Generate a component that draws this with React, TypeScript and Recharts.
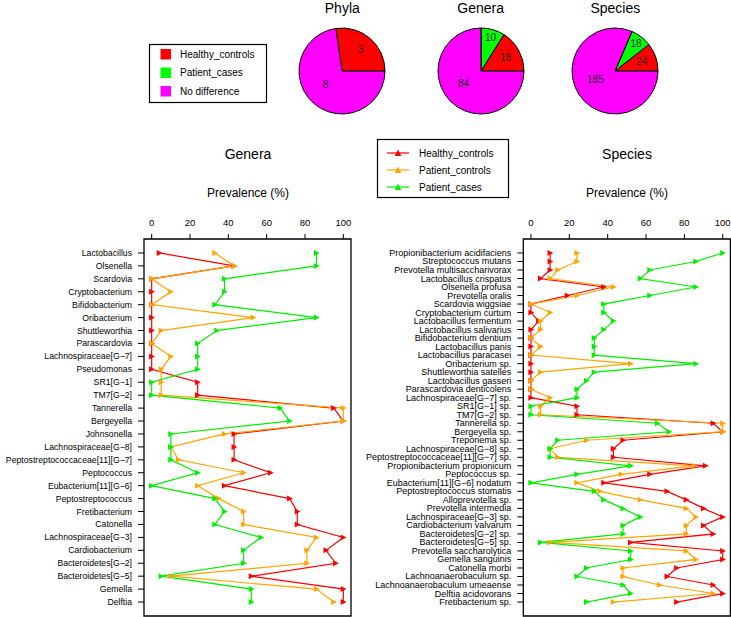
import React from "react";
import {
  LineChart,
  Line,
  XAxis,
  YAxis,
  ReferenceArea,
  PieChart,
  Pie,
  Cell,
} from "recharts";

const FONT = '"Liberation Sans", Arial, Helvetica, sans-serif';

// pie charts: Healthy_controls, Patient_cases, No difference
const pieGroups = ["Healthy_controls", "Patient_cases", "No difference"];
const pieColors = ["#FF0000", "#00FF00", "#FF00FF"];
const pieTitles = ["Phyla", "Genera", "Species"];
const phylaCounts = [3, 0, 8];
const generaCounts = [18, 10, 84];
const speciesCounts = [24, 18, 185];

// prevalence series
const seriesNames = ["Healthy_controls", "Patient_controls", "Patient_cases"];
const seriesColors = ["#FF0000", "#FFA500", "#00EE00"];
const xTicks = [0, 20, 40, 60, 80, 100];

const genera = [
  "Lactobacillus", "Olsenella", "Scardovia", "Cryptobacterium", "Bifidobacterium",
  "Oribacterium", "Shuttleworthia", "Parascardovia", "Lachnospiraceae[G\u22127]",
  "Pseudomonas", "SR1[G\u22121]", "TM7[G\u22122]", "Tannerella", "Bergeyella",
  "Johnsonella", "Lachnospiraceae[G\u22128]", "Peptostreptococcaceae[11][G\u22127]",
  "Peptococcus", "Eubacterium[11][G\u22126]", "Peptostreptococcus", "Fretibacterium",
  "Catonella", "Lachnospiraceae[G\u22123]", "Cardiobacterium", "Bacteroidetes[G\u22122]",
  "Bacteroidetes[G\u22125]", "Gemella", "Delftia",
];
const generaHealthy = [4, 43, 0, 0, 0, 0, 0, 0, 0, 0, 24, 24, 95, 100, 43, 43, 43, 62, 38, 72, 76, 76, 100, 91, 96, 52, 100, 100];
const generaPatCtrl = [33, 43, 0, 10, 0, 53, 5, 0, 10, 5, 5, 5, 100, 100, 38, 10, 14, 48, 24, 35, 48, 48, 86, 81, 81, 10, 86, 95];
const generaPatCase = [86, 86, 38, 38, 33, 86, 34, 24, 24, 24, 0, 0, 67, 72, 10, 10, 10, 24, 0, 33, 38, 33, 57, 48, 48, 5, 52, 52];

const species = [
  "Propionibacterium acidifaciens", "Streptococcus mutans", "Prevotella multisaccharivorax",
  "Lactobacillus crispatus", "Olsenella profusa", "Prevotella oralis", "Scardovia wiggsiae",
  "Cryptobacterium curtum", "Lactobacillus fermentum", "Lactobacillus salivarius",
  "Bifidobacterium dentium", "Lactobacillus panis", "Lactobacillus paracasei",
  "Oribacterium sp.", "Shuttleworthia satelles", "Lactobacillus gasseri",
  "Parascardovia denticolens", "Lachnospiraceae[G\u22127] sp.", "SR1[G\u22121] sp.",
  "TM7[G\u22122] sp.", "Tannerella sp.", "Bergeyella sp.", "Treponema sp.",
  "Lachnospiraceae[G\u22128] sp.", "Peptostreptococcaceae[11][G\u22127] sp.",
  "Propionibacterium propionicum", "Peptococcus sp.", "Eubacterium[11][G\u22126] nodatum",
  "Peptostreptococcus stomatis", "Alloprevotella sp.", "Prevotella intermedia",
  "Lachnospiraceae[G\u22123] sp.", "Cardiobacterium valvarum", "Bacteroidetes[G\u22122] sp.",
  "Bacteroidetes[G\u22125] sp.", "Prevotella saccharolytica", "Gemella sanguinis",
  "Catonella morbi", "Lachnoanaerobaculum sp.", "Lachnoanaerobaculum umeaense",
  "Delftia acidovorans", "Fretibacterium sp.",
];
const speciesHealthy = [10, 10, 10, 5, 38, 19, 0, 0, 4, 0, 0, 0, 0, 0, 0, 0, 0, 0, 24, 24, 95, 100, 48, 43, 43, 91, 62, 38, 71, 81, 90, 100, 90, 95, 52, 100, 100, 76, 71, 95, 100, 76];
const speciesPatCtrl = [24, 24, 14, 10, 43, 24, 0, 10, 5, 5, 0, 5, 0, 52, 5, 0, 0, 10, 5, 5, 100, 100, 29, 10, 14, 85, 47, 24, 36, 57, 81, 86, 81, 81, 10, 81, 86, 48, 48, 67, 95, 43];
const speciesPatCase = [100, 86, 62, 57, 86, 62, 38, 38, 43, 38, 33, 33, 33, 86, 33, 29, 24, 24, 0, 0, 66, 72, 14, 10, 10, 52, 24, 0, 33, 38, 48, 57, 48, 48, 5, 52, 52, 29, 24, 48, 52, 29];

const RADIAN = Math.PI / 180;

function triangleDot(color: string) {
  return (props: any) => {
    const { cx, cy, index } = props;
    if (cx == null || cy == null) return <g key={index} />;
    return (
      <polygon
        key={index}
        points={`${cx - 2.6},${cy - 3} ${cx + 3.2},${cy} ${cx - 2.6},${cy + 3}`}
        fill={color}
      />
    );
  };
}

function SmallPie({ counts, cx }: { counts: number[]; cx: number }) {
  const data = counts.map((v, i) => ({ name: pieGroups[i], value: v }));
  // label radius (fraction of R) and angle shift per slice
  const factors = [0.66, 0.8, 0.5];
  const shifts = [0, 0, -9];
  const renderLabel = (p: any) => {
    if (!p.value) return null;
    const r = p.outerRadius * factors[p.index];
    const a = (p.midAngle + shifts[p.index]) * RADIAN;
    const x = p.cx + r * Math.cos(-a);
    const y = p.cy + r * Math.sin(-a);
    return (
      <text
        x={x}
        y={y}
        textAnchor="middle"
        dominantBaseline="central"
        fontSize={10}
        fill="#222"
        fontFamily={FONT}
      >
        {p.value}
      </text>
    );
  };
  return (
    <div style={{ position: "absolute", left: cx - 50, top: 21.3 }}>
      <PieChart width={100} height={100} margin={{ top: 0, right: 0, bottom: 0, left: 0 }}>
        <Pie
          data={data}
          dataKey="value"
          cx={50}
          cy={50}
          outerRadius={43}
          startAngle={0}
          endAngle={360}
          stroke="#000"
          strokeWidth={1}
          label={renderLabel}
          labelLine={false}
          isAnimationActive={false}
        >
          {data.map((d, i) => (
            <Cell key={d.name} fill={pieColors[i]} />
          ))}
        </Pie>
      </PieChart>
    </div>
  );
}

function PrevalencePanel({
  names,
  healthy,
  patCtrl,
  patCase,
  left,
  width,
  axisWidth,
  rightMargin,
  labelSize,
}: {
  names: string[];
  healthy: number[];
  patCtrl: number[];
  patCase: number[];
  left: number;
  width: number;
  axisWidth: number;
  rightMargin: number;
  labelSize: number;
}) {
  const n = names.length;
  const pad = (n - 1) * 0.04;
  const data = names.map((name, i) => ({
    pos: i + 1,
    name,
    h: healthy[i],
    pc: patCtrl[i],
    ps: patCase[i],
  }));
  const keys = ["h", "pc", "ps"];
  const renderTick = (p: any) => (
    <text
      x={p.x}
      y={p.y}
      textAnchor="end"
      dominantBaseline="central"
      fontSize={labelSize}
      fill="#000"
      fontFamily={FONT}
    >
      {names[p.payload.value - 1]}
    </text>
  );
  return (
    <div style={{ position: "absolute", left, top: 0 }}>
      <LineChart
        width={width}
        height={617}
        layout="vertical"
        data={data}
        margin={{ top: 209, right: rightMargin, bottom: 1, left: 0 }}
        style={{ fontFamily: FONT }}
      >
        <XAxis
          type="number"
          orientation="top"
          domain={[-4, 104]}
          ticks={xTicks}
          allowDataOverflow
          height={30}
          tickSize={5}
          tickMargin={8}
          axisLine={false}
          tickLine={{ stroke: "#000" }}
          tick={{ fontSize: 9.5, fill: "#000" }}
        />
        <YAxis
          type="number"
          dataKey="pos"
          domain={[1 - pad, n + pad]}
          ticks={data.map((d) => d.pos)}
          interval={0}
          allowDataOverflow
          width={axisWidth}
          tickSize={6}
          tickMargin={6}
          axisLine={false}
          tickLine={{ stroke: "#000" }}
          tick={renderTick}
        />
        <ReferenceArea
          x1={-4}
          x2={104}
          y1={1 - pad}
          y2={n + pad}
          fill="none"
          fillOpacity={0}
          stroke="#000"
          strokeWidth={1.3}
          ifOverflow="visible"
        />
        {keys.map((k, i) => (
          <Line
            key={k}
            dataKey={k}
            name={seriesNames[i]}
            type="linear"
            stroke={seriesColors[i]}
            strokeWidth={1.2}
            dot={triangleDot(seriesColors[i])}
            activeDot={false}
            isAnimationActive={false}
          />
        ))}
      </LineChart>
    </div>
  );
}

const pieCenters = [342.3, 480.7, 615.3];

export default function App() {
  return (
    <div
      style={{
        position: "absolute",
        left: 0,
        top: 0,
        width: 731,
        height: 617,
        background: "#fff",
        fontFamily: FONT,
        overflow: "hidden",
        color: "#000",
      }}
    >
      <svg
        width={731}
        height={617}
        style={{ position: "absolute", left: 0, top: 0, fontFamily: FONT }}
      >
        {/* pie titles */}
        {pieTitles.map((t, i) => (
          <text key={t} x={pieCenters[i]} y={12.5} textAnchor="middle" fontSize={14}>
            {t}
          </text>
        ))}

        {/* group legend for pies */}
        <g transform="translate(149,44)">
          <rect x={0.5} y={0.5} width={117} height={58} fill="#fff" stroke="#000" strokeWidth={1.2} />
          {pieGroups.map((g, i) => (
            <g key={g}>
              <rect x={11.5} y={5 + i * 18.5} width={10.5} height={10.5} fill={pieColors[i]} />
              <text x={31} y={10.3 + i * 18.5} dominantBaseline="central" fontSize={10}>
                {g}
              </text>
            </g>
          ))}
        </g>

        {/* series legend */}
        <g transform="translate(377,139)">
          <rect x={0.5} y={0.5} width={131} height={58} fill="#fff" stroke="#000" strokeWidth={1.2} />
          {seriesNames.map((s, i) => (
            <g key={s}>
              <line x1={10} x2={32} y1={14 + i * 17} y2={14 + i * 17} stroke={seriesColors[i]} strokeWidth={1.2} />
              <polygon
                points={`${21 - 3.3},${17 + i * 17} ${21 + 3.3},${17 + i * 17} 21,${10.5 + i * 17}`}
                fill={seriesColors[i]}
              />
              <text x={42} y={14 + i * 17} dominantBaseline="central" fontSize={10}>
                {s}
              </text>
            </g>
          ))}
        </g>

        <text x={248} y={159} textAnchor="middle" fontSize={14}>Genera</text>
        <text x={627} y={159} textAnchor="middle" fontSize={14}>Species</text>
        <text x={248} y={197} textAnchor="middle" fontSize={12}>Prevalence (%)</text>
        <text x={627} y={197} textAnchor="middle" fontSize={12}>Prevalence (%)</text>
      </svg>

      <SmallPie counts={phylaCounts} cx={pieCenters[0]} />
      <SmallPie counts={generaCounts} cx={pieCenters[1]} />
      <SmallPie counts={speciesCounts} cx={pieCenters[2]} />

      <PrevalencePanel
        names={genera}
        healthy={generaHealthy}
        patCtrl={generaPatCtrl}
        patCase={generaPatCase}
        left={0}
        width={356}
        axisWidth={144}
        rightMargin={5}
        labelSize={8.7}
      />
      <PrevalencePanel
        names={species}
        healthy={speciesHealthy}
        patCtrl={speciesPatCtrl}
        patCase={speciesPatCase}
        left={360}
        width={371}
        axisWidth={163.3}
        rightMargin={0.6}
        labelSize={9}
      />
    </div>
  );
}
